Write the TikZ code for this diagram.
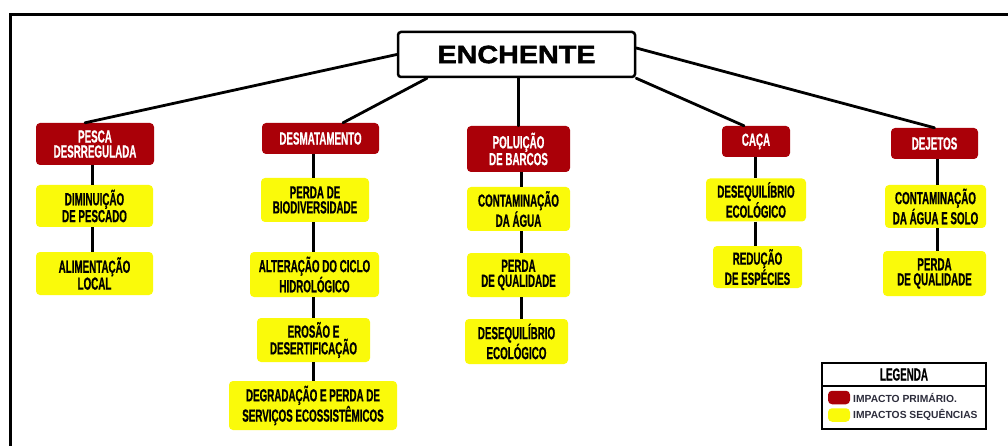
\documentclass[tikz,border=0pt]{standalone}
\usepackage{fontspec}
\usetikzlibrary{calc}
\newfontfamily\condf[FakeStretch=0.56,FakeBold=0.6]{Liberation Sans}
\newfontfamily\widef[FakeStretch=1.15,FakeBold=2]{Liberation Sans}
\newfontfamily\legf{Liberation Sans}
\definecolor{primred}{RGB}{170,0,8}
\definecolor{seqyel}{RGB}{250,250,10}
\definecolor{legtext}{RGB}{45,45,60}
\tikzset{
  boxbase/.style={rectangle, rounded corners=4pt, inner sep=0pt, align=center,
    font=\condf\bfseries\fontsize{17.5}{15}\selectfont},
  prim/.style={boxbase, fill=primred, text=white},
  seq/.style={boxbase, fill=seqyel, text=black},
  mainbox/.style={rectangle, rounded corners=3pt, draw=black, line width=2.5pt, fill=white,
    inner sep=0pt, font=\widef\bfseries\fontsize{25}{25}\selectfont},
  topline/.style={line width=2.8pt, line cap=round},
  vline/.style={line width=3pt},
  frameline/.style={line width=3pt},
  swatch/.style={rectangle, rounded corners=4pt, inner sep=0pt, minimum width=22pt, minimum height=13.5pt},
  legtxt/.style={anchor=west, inner sep=0pt, text=legtext, font=\legf\bfseries\fontsize{10.3}{11}\selectfont},
}
\begin{document}
\begin{tikzpicture}[x=1pt,y=-1pt]
\useasboundingbox (0,0) rectangle (1008,446);
\fill[white] (0,0) rectangle (1008,446);
\draw[frameline] (10,14.5) rectangle (1030,470);

% main node
\node[mainbox, minimum width=237pt, minimum height=45pt] (E) at (516.5,54.5) {ENCHENTE};

% primary impacts
\node[prim, minimum width=118pt, minimum height=42pt] (pesca) at (95,144) {PESCA\\DESRREGULADA};
\node[prim, minimum width=117pt, minimum height=31pt] (desm) at (320.5,138.5) {DESMATAMENTO};
\node[prim, minimum width=103pt, minimum height=46pt] (pol) at (518.5,149) {POLUIÇÃO\\DE BARCOS};
\node[prim, minimum width=68pt, minimum height=31pt] (caca) at (756,141.5) {CAÇA};
\node[prim, minimum width=87pt, minimum height=31pt] (dej) at (934.5,143.5) {DEJETOS};

% sequential impacts
\node[seq, minimum width=117pt, minimum height=42pt] (dim) at (94.5,206) {DIMINUIÇÃO\\DE PESCADO};
\node[seq, minimum width=117pt, minimum height=43pt] (ali) at (94.5,273.5) {ALIMENTAÇÃO\\LOCAL};

\node[seq, minimum width=108pt, minimum height=44pt] (perda) at (315,200) {PERDA DE\\BIODIVERSIDADE};
\node[seq, minimum width=129pt, minimum height=45pt] (alt) at (314.5,274.5) {ALTERAÇÃO DO CICLO\\HIDROLÓGICO};
\node[seq, minimum width=113pt, minimum height=44pt] (ero) at (313.5,340) {EROSÃO E\\DESERTIFICAÇÃO};
\node[seq, minimum width=168pt, minimum height=49pt] (deg) at (313,405.5) {DEGRADAÇÃO E PERDA DE\\SERVIÇOS ECOSSISTÊMICOS};

\node[seq, minimum width=103pt, minimum height=44pt] (cont) at (518.5,209) {CONTAMINAÇÃO\\DA ÁGUA};
\node[seq, minimum width=103pt, minimum height=44pt] (perq) at (518.5,275) {PERDA\\DE QUALIDADE};
\node[seq, minimum width=103pt, minimum height=45pt] (deseq) at (516.5,341.5) {DESEQUILÍBRIO\\ECOLÓGICO};

\node[seq, minimum width=100pt, minimum height=43pt] (deseqb) at (756,200) {DESEQUILÍBRIO\\ECOLÓGICO};
\node[seq, minimum width=89pt, minimum height=42pt] (red) at (757.5,267) {REDUÇÃO\\DE ESPÉCIES};

\node[seq, minimum width=101pt, minimum height=43pt] (contb) at (935.5,206.5) {CONTAMINAÇÃO\\DA ÁGUA E SOLO};
\node[seq, minimum width=103pt, minimum height=45pt] (perqb) at (934.5,273.5) {PERDA\\DE QUALIDADE};

% connectors from main node
\draw[topline] (E.west) -- ($(pesca.north)+(-10,0)$);
\draw[topline] ($(E.south)+(-89.5,0)$) -- ($(desm.north)+(22.5,0)$);
\draw[topline] (pol.north |- E.south) -- (pol.north);
\draw[topline] (E.south east) -- ($(caca.north)+(-12,0)$);
\draw[topline] ($(E.east)+(0,-6.5)$) -- (dej.north);

% vertical connectors
\coordinate (c1) at (92,0);
\coordinate (c2) at (313,0);
\coordinate (c3) at (521,0);
\coordinate (c4) at (755,0);
\coordinate (c5) at (937,0);
\draw[vline] (c1 |- pesca.south) -- (c1 |- dim.north);
\draw[vline] (c1 |- dim.south) -- (c1 |- ali.north);
\draw[vline] (c2 |- desm.south) -- (c2 |- perda.north);
\draw[vline] (c2 |- perda.south) -- (c2 |- alt.north);
\draw[vline] (c2 |- alt.south) -- (c2 |- ero.north);
\draw[vline] (c2 |- ero.south) -- (c2 |- deg.north);
\draw[vline] (c3 |- pol.south) -- (c3 |- cont.north);
\draw[vline] (c3 |- cont.south) -- (c3 |- perq.north);
\draw[vline] (c3 |- perq.south) -- (c3 |- deseq.north);
\draw[vline] (c4 |- caca.south) -- (c4 |- deseqb.north);
\draw[vline] (c4 |- deseqb.south) -- (c4 |- red.north);
\draw[vline] (c5 |- dej.south) -- (c5 |- contb.north);
\draw[vline] (c5 |- contb.south) -- (c5 |- perqb.north);

% legend
\node[rectangle, draw=black, line width=1.8pt, minimum width=164pt, minimum height=66pt, inner sep=0pt] (leg) at (904,396) {};
\draw[line width=1.8pt] (leg.west |- 0,386) -- (leg.east |- 0,386);
\node[inner sep=0pt, font=\condf\bfseries\fontsize{17.5}{16}\selectfont] (legt) at (904,374.5) {LEGENDA};
\node[swatch, fill=primred] (sw1) at (839,397.5) {};
\node[swatch, fill=seqyel] (sw2) at (839,415) {};
\node[legtxt] (l1) at (853,397.5) {IMPACTO PRIMÁRIO.};
\node[legtxt] (l2) at (853,415) {IMPACTOS SEQUÊNCIAS};
\end{tikzpicture}
\end{document}
